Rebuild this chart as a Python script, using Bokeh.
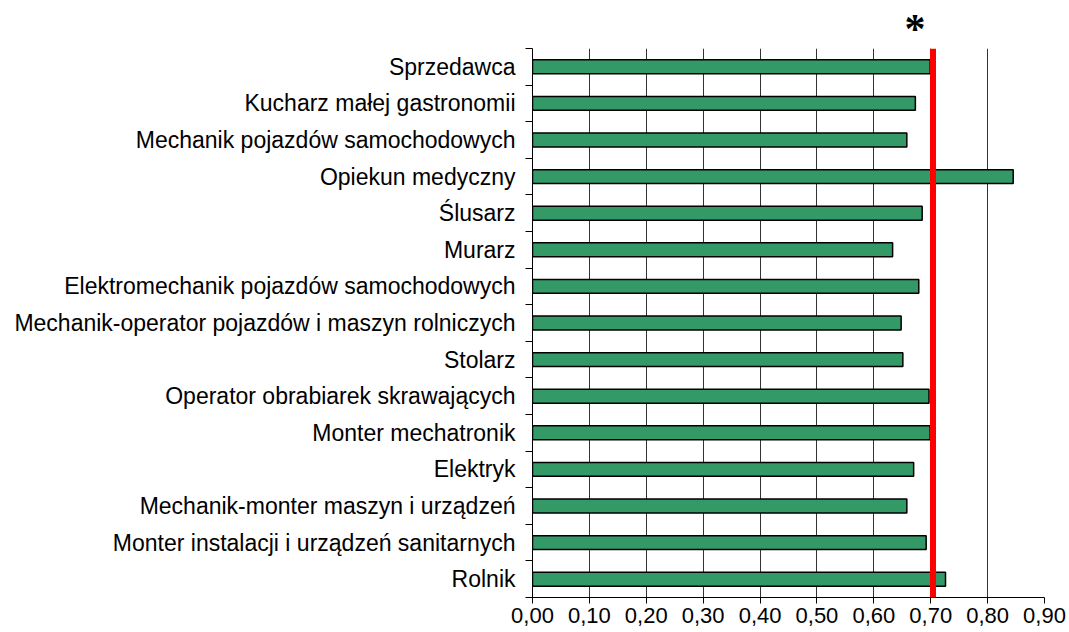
from bokeh.plotting import figure
from bokeh.models import FixedTicker, CustomJSTickFormatter, Range1d, Span, Title
from bokeh.embed import file_html
from bokeh.resources import INLINE

categories = [
    "Sprzedawca",
    "Kucharz małej gastronomii",
    "Mechanik pojazdów samochodowych",
    "Opiekun medyczny",
    "Ślusarz",
    "Murarz",
    "Elektromechanik pojazdów samochodowych",
    "Mechanik-operator pojazdów i maszyn rolniczych",
    "Stolarz",
    "Operator obrabiarek skrawających",
    "Monter mechatronik",
    "Elektryk",
    "Mechanik-monter maszyn i urządzeń",
    "Monter instalacji i urządzeń sanitarnych",
    "Rolnik",
]
values = [0.699, 0.673, 0.658, 0.845, 0.685, 0.633, 0.679, 0.648, 0.651,
          0.697, 0.699, 0.670, 0.658, 0.692, 0.726]
threshold = 0.704
x_ticks = [0.0, 0.1, 0.2, 0.3, 0.4, 0.5, 0.6, 0.7, 0.8, 0.9]

n = len(categories)
ys = list(range(n))

p = figure(width=1069, height=632,
           x_range=Range1d(0, 0.9), y_range=Range1d(n - 0.5, -0.5),
           output_backend="svg", toolbar_location=None,
           min_border_left=532, min_border_right=25,
           min_border_top=48, min_border_bottom=35)
p.outline_line_color = None
p.background_fill_color = "white"
p.border_fill_color = "white"

p.hbar(y=ys, right=values, left=0, height=0.38,
       fill_color="#339966", line_color="black", line_width=1.5)

p.add_layout(Span(location=threshold, dimension="height",
                  line_color="#ff0000", line_width=6))

p.add_layout(Title(text="*", align="left", offset=372, standoff=-7,
                   text_font="Liberation Serif", text_font_style="bold",
                   text_font_size="42px", text_color="black"), "above")

# x axis
p.xaxis.ticker = FixedTicker(ticks=x_ticks)
p.xaxis.formatter = CustomJSTickFormatter(code="return tick.toFixed(2).replace('.', ',');")
p.xaxis.major_tick_out = 6
p.xaxis.major_tick_in = 0
p.xaxis.minor_tick_out = 0
p.xaxis.minor_tick_in = 0
p.xaxis.major_label_standoff = 4
p.xaxis.major_label_text_font = "Liberation Sans"
p.xaxis.major_label_text_font_size = "22px"
p.xaxis.major_label_text_color = "black"
p.xaxis.axis_line_color = "black"
p.xaxis.major_tick_line_color = "black"

# y axis
p.yaxis.ticker = FixedTicker(ticks=ys, minor_ticks=[i - 0.5 for i in range(n + 1)])
p.yaxis.major_label_overrides = {i: c for i, c in zip(ys, categories)}
p.yaxis.major_tick_out = 0
p.yaxis.major_tick_in = 0
p.yaxis.minor_tick_out = 7
p.yaxis.minor_tick_in = 0
p.yaxis.minor_tick_line_color = "black"
p.yaxis.major_label_standoff = 10
p.yaxis.major_label_text_font = "Liberation Sans"
p.yaxis.major_label_text_font_size = "23px"
p.yaxis.major_label_text_color = "black"
p.yaxis.axis_line_color = "black"

p.xgrid.ticker = FixedTicker(ticks=x_ticks)
p.xgrid.grid_line_color = "#333333"
p.xgrid.grid_line_width = 1
p.ygrid.visible = False

open("out.html", "w").write(file_html(p, INLINE))
